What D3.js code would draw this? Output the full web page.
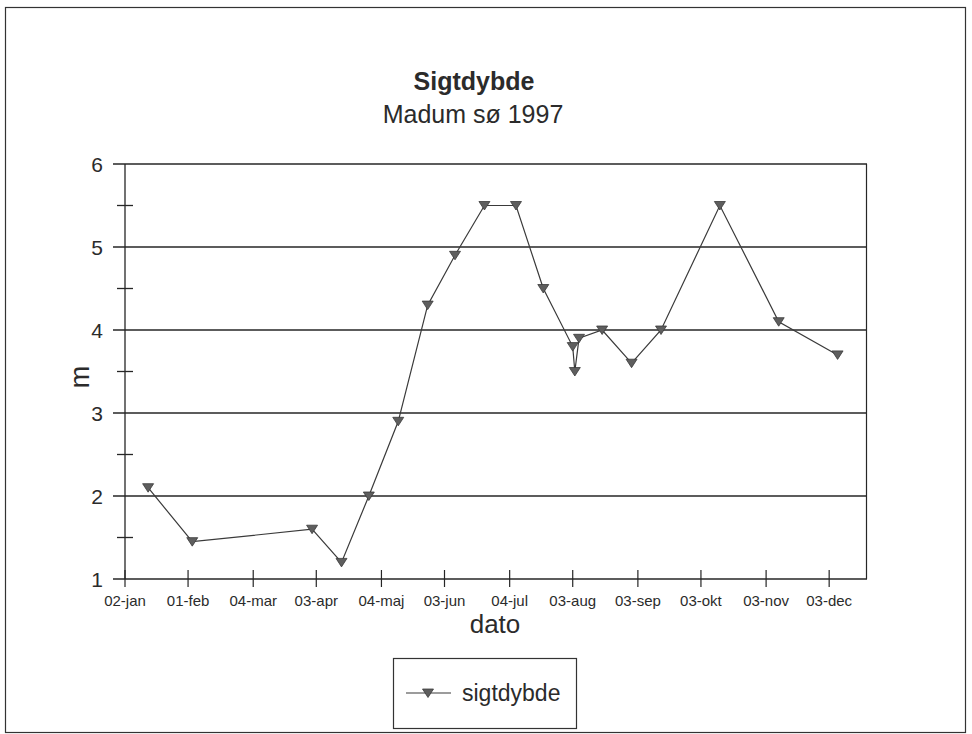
<!DOCTYPE html>
<html>
<head>
	<meta charset="utf-8">
	<title>Sigtdybde - Madum sø 1997</title>
	<style>
		html, body { margin:0; padding:0; background:#fff; }
		body { font-family: "Liberation Sans", Arial, Helvetica, sans-serif; }
		.txt { fill: #2b2b2b; }
		.grid { stroke: #262626; stroke-width: 1.5px; }
		.frame { fill: none; stroke: #333; stroke-width: 1.2px; }
	</style>
	<script src="https://d3js.org/d3.v7.min.js"></script>
</head>
<body>
<svg id="chart"></svg>
<script>

	//measurements (date of sampling, depth in m)
	var dates = ["1997-01-13","1997-02-03","1997-04-01","1997-04-15","1997-04-28","1997-05-12","1997-05-26",
		"1997-06-08","1997-06-22","1997-07-07","1997-07-20","1997-08-03","1997-08-04","1997-08-06",
		"1997-08-17","1997-08-31","1997-09-14","1997-10-12","1997-11-09","1997-12-07"];
	var values = [2.1,1.45,1.6,1.2,2.0,2.9,4.3,4.9,5.5,5.5,4.5,3.8,3.5,3.9,4.0,3.6,4.0,5.5,4.1,3.7];

	//x axis ticks
	var tickDates = ["1997-01-02","1997-02-01","1997-03-04","1997-04-03","1997-05-04","1997-06-03",
		"1997-07-04","1997-08-03","1997-09-03","1997-10-03","1997-11-03","1997-12-03"];
	var tickLabels = ["02-jan","01-feb","04-mar","03-apr","04-maj","03-jun","04-jul","03-aug","03-sep","03-okt","03-nov","03-dec"];
	var yTicks = [1,2,3,4,5,6];
	var yMinor = [1.5,2.5,3.5,4.5,5.5];

	var W = 972, H = 734;
	var parse = d3.timeParse("%Y-%m-%d");

	var svg = d3.select("#chart").attr("width", W).attr("height", H);

	//outer frame
	svg.append("rect").attr("class","frame").attr("x",5.5).attr("y",7.5).attr("width",960).attr("height",725);

	//scales
	var x = d3.scaleTime().domain([parse("1997-01-02"), parse("1997-12-21")]).range([125, 867]);
	var y = d3.scaleLinear().domain([1, 6]).range([579, 164]);

	//titles
	svg.append("text").attr("class","txt").attr("x",474).attr("y",90).attr("text-anchor","middle")
		.style("font-size","25px").style("font-weight","bold").text("Sigtdybde");
	svg.append("text").attr("class","txt").attr("x",473).attr("y",123).attr("text-anchor","middle")
		.style("font-size","25px").text("Madum sø 1997");

	//horizontal grid lines (incl. x axis line)
	svg.append("g").selectAll("line").data(yTicks).enter().append("line")
		.attr("class","grid")
		.attr("x1",113).attr("x2",867)
		.attr("y1",function(d){ return y(d); }).attr("y2",function(d){ return y(d); });

	//y axis + minor ticks
	svg.append("line").attr("class","grid").attr("x1",125).attr("x2",125).attr("y1",y(6)).attr("y2",y(1)).style("stroke-width","1.3px");
	svg.append("g").selectAll("line").data(yMinor).enter().append("line")
		.attr("class","grid").style("stroke-width","1.3px")
		.attr("x1",117).attr("x2",133)
		.attr("y1",function(d){ return y(d); }).attr("y2",function(d){ return y(d); });
	svg.append("g").selectAll("text").data(yTicks).enter().append("text")
		.attr("class","txt").attr("x",103).attr("y",function(d){ return y(d)+7.5; })
		.attr("text-anchor","end").style("font-size","21px").text(function(d){ return d; });

	//right border of plot area
	svg.append("line").attr("class","grid").style("stroke-width","1.2px")
		.attr("x1",866.5).attr("x2",866.5).attr("y1",y(6)).attr("y2",y(1));

	//x axis ticks and labels
	var xt = svg.append("g").selectAll("g").data(tickDates).enter().append("g")
		.attr("transform", function(d){ return "translate("+x(parse(d))+",0)"; });
	xt.append("line").attr("class","grid").style("stroke-width","1.2px")
		.attr("y1",y(1)-9).attr("y2",y(1)+8);
	xt.append("text").attr("class","txt").attr("y",606).attr("text-anchor","middle")
		.style("font-size","15px").text(function(d,i){ return tickLabels[i]; });

	//axis titles
	svg.append("text").attr("class","txt").attr("x",495).attr("y",633).attr("text-anchor","middle")
		.style("font-size","26px").text("dato");
	svg.append("text").attr("class","txt").attr("transform","translate(89,377) rotate(-90)")
		.attr("text-anchor","middle").style("font-size","27px").text("m");

	//data line
	var pts = dates.map(function(d,i){ return {date: parse(d), val: values[i]}; });
	var line = d3.line().x(function(d){ return x(d.date); }).y(function(d){ return y(d.val); });
	svg.append("path").datum(pts).attr("d", line)
		.attr("fill","none").attr("stroke","#3a3a3a").attr("stroke-width",1.2);

	//markers (down triangles)
	var tri = "M-5.5,-4L5.5,-4L0,4.5Z";
	svg.append("g").selectAll("path").data(pts).enter().append("path")
		.attr("d", tri)
		.attr("transform", function(d){ return "translate("+x(d.date)+","+y(d.val)+")"; })
		.attr("fill","#5e5e5e").attr("stroke","#3a3a3a").attr("stroke-width",0.8);

	//legend
	var lg = svg.append("g");
	lg.append("rect").attr("class","frame").attr("x",393.5).attr("y",658.5).attr("width",183).attr("height",70);
	lg.append("line").attr("x1",406).attr("x2",451).attr("y1",693).attr("y2",693)
		.attr("stroke","#3a3a3a").attr("stroke-width",1.2);
	lg.append("path").attr("d",tri).attr("transform","translate(428,693)")
		.attr("fill","#5e5e5e").attr("stroke","#3a3a3a").attr("stroke-width",0.8);
	lg.append("text").attr("class","txt").attr("x",462).attr("y",701)
		.style("font-size","23px").text("sigtdybde");

</script>
</body>
</html>
